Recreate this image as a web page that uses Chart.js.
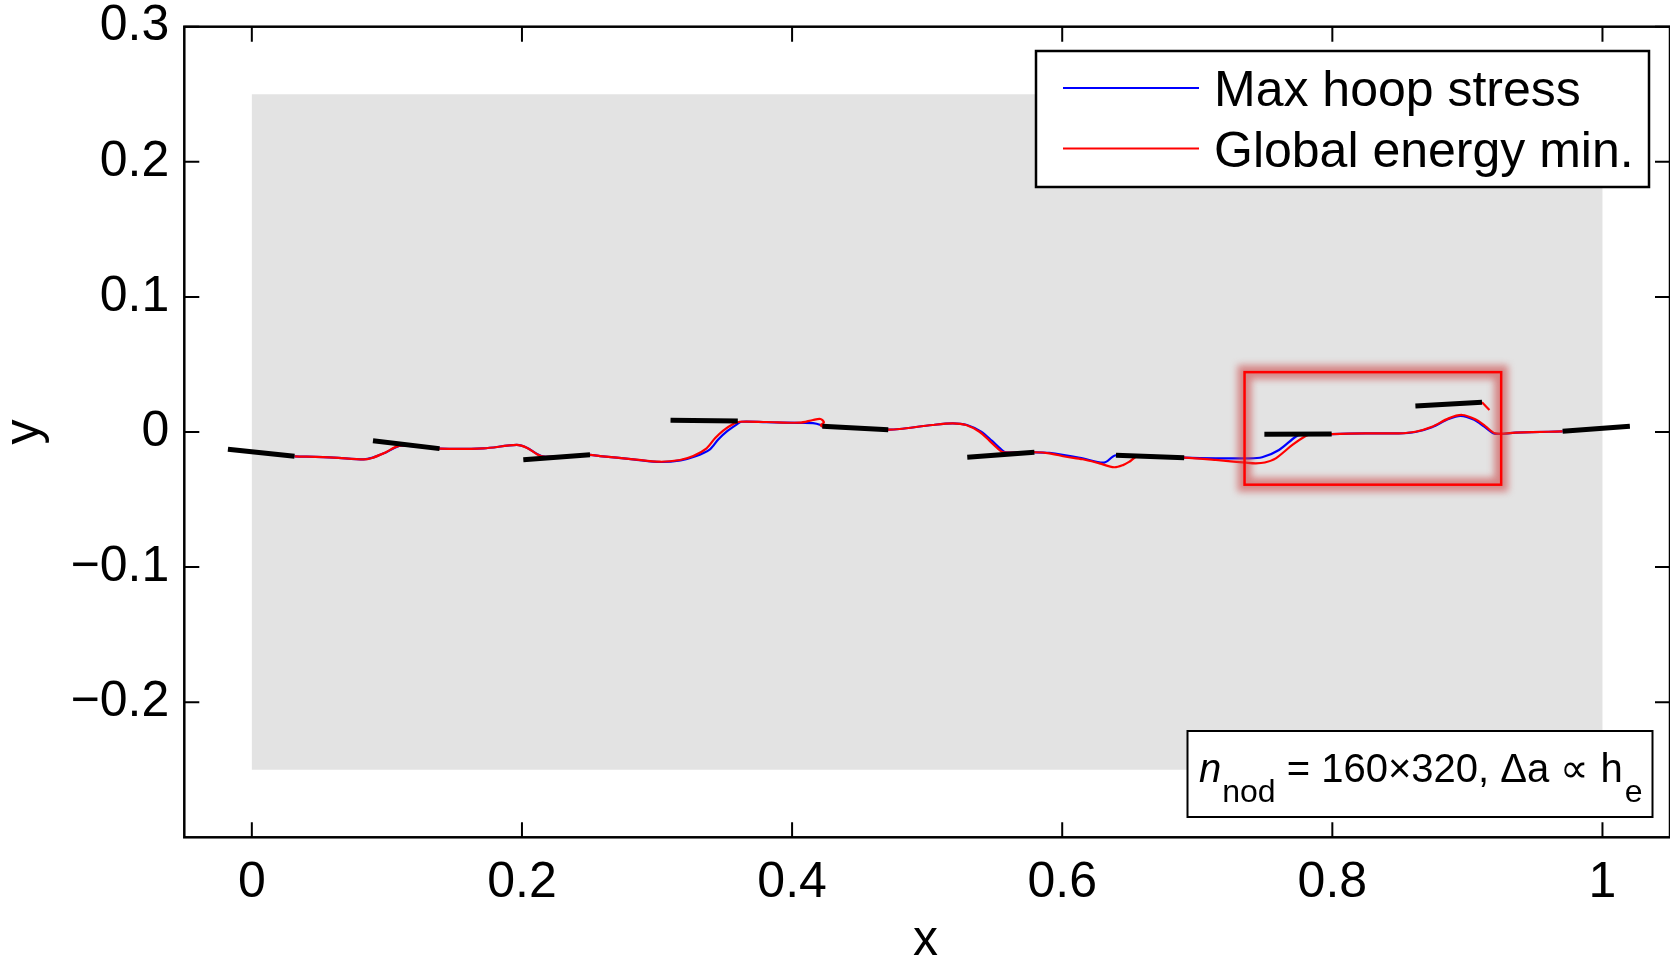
<!DOCTYPE html>
<html>
<head>
<meta charset="utf-8">
<script src="https://cdn.jsdelivr.net/npm/chart.js@4.4.1/dist/chart.umd.min.js"></script>
<style>
  html, body { margin: 0; background: #fff; }
  #wrap { width: 1670px; height: 958px; }
</style>
</head>
<body>
<div id="wrap"><canvas id="myChart"></canvas></div>
<script>
/* globals Chart:false */
(() => {
  'use strict'

  // tick labels
  const xTicks = [0, 0.2, 0.4, 0.6, 0.8, 1]
  const yTicks = [-0.2, -0.1, 0, 0.1, 0.2, 0.3]

  // specimen (grey) and zoom window (red box)
  const domainX = [0, 1]
  const domainY = [-0.25, 0.25]
  const zoomX = [0.735, 0.925]
  const zoomY = [-0.039, 0.0443]

  // Max hoop stress crack path
  const hoopX = [0.0316, 0.0607, 0.0828, 0.0895, 0.0985, 0.1105, 0.1390, 0.1715, 0.1961, 0.2040, 0.2115, 0.2165,
    0.2504, 0.2578, 0.2824, 0.3022, 0.3175, 0.3280, 0.3392, 0.3453, 0.3515, 0.3589, 0.3625, 0.3810, 0.4056,
    0.4155, 0.4212, 0.4224, 0.4712, 0.4796, 0.5040, 0.5190, 0.5295, 0.5400, 0.5478, 0.5540, 0.5580, 0.5794,
    0.5904, 0.6151, 0.6310, 0.6398, 0.6903, 0.7137, 0.7359, 0.7480, 0.7605, 0.7728, 0.7765, 0.7995, 0.8245,
    0.8492, 0.8615, 0.8738, 0.8861, 0.8950, 0.9050, 0.9125, 0.9200, 0.9355, 0.9601, 0.9705]
  const hoopY = [-0.0180, -0.0190, -0.0203, -0.0190, -0.0155, -0.0101, -0.0123, -0.0121, -0.0096, -0.0118, -0.0165, -0.0183,
    -0.0170, -0.0178, -0.0202, -0.0222, -0.0210, -0.0182, -0.0128, -0.0055, 0.0003, 0.0055, 0.0076, 0.0072, 0.0068,
    0.0066, 0.0052, 0.0042, 0.0017, 0.0022, 0.0052, 0.0064, 0.0052, 0.0002, -0.0064, -0.0121, -0.0150, -0.0150,
    -0.0155, -0.0195, -0.0227, -0.0172, -0.0190, -0.0195, -0.0195, -0.0187, -0.0133, -0.0035, -0.0022, -0.0015, -0.0010,
    -0.0010, 0.0000, 0.0035, 0.0096, 0.0120, 0.0090, 0.0040, -0.0012, -0.0005, 0.0002, 0.0005]

  // Global energy min. crack path
  const energyX = [0.0316, 0.0607, 0.0828, 0.0890, 0.0976, 0.1099, 0.1390, 0.1715, 0.1961, 0.2035, 0.2109, 0.2158,
    0.2504, 0.2578, 0.2824, 0.3022, 0.3170, 0.3268, 0.3367, 0.3429, 0.3490, 0.3564, 0.3613, 0.3810, 0.4056,
    0.4155, 0.4210, 0.4236, 0.4212, 0.4224, 0.4712, 0.4796, 0.5040, 0.5190, 0.5288, 0.5387, 0.5461, 0.5522,
    0.5564, 0.5794, 0.5904, 0.6028, 0.6151, 0.6275, 0.6385, 0.6450, 0.6497, 0.6558, 0.6903, 0.7137, 0.7359,
    0.7433, 0.7500, 0.7581, 0.7704, 0.7802, 0.7839, 0.7995, 0.8245, 0.8492, 0.8615, 0.8738, 0.8861, 0.8960,
    0.9058, 0.9132, 0.9206, 0.9355, 0.9601, 0.9705]
  const energyY = [-0.0180, -0.0190, -0.0203, -0.0192, -0.0158, -0.0101, -0.0123, -0.0121, -0.0096, -0.0116, -0.0163, -0.0183,
    -0.0170, -0.0178, -0.0202, -0.0220, -0.0207, -0.0178, -0.0121, -0.0047, 0.0010, 0.0059, 0.0076, 0.0074, 0.0069,
    0.0089, 0.0096, 0.0072, 0.0050, 0.0042, 0.0017, 0.0022, 0.0052, 0.0064, 0.0052, 0.0002, -0.0064, -0.0121,
    -0.0150, -0.0150, -0.0158, -0.0183, -0.0202, -0.0232, -0.0261, -0.0245, -0.0220, -0.0180, -0.0190, -0.0207, -0.0227,
    -0.0232, -0.0226, -0.0195, -0.0096, -0.0030, -0.0017, -0.0015, -0.0010, -0.0010, 0.0002, 0.0039, 0.0101, 0.0126,
    0.0094, 0.0044, -0.0010, -0.0005, 0.0002, 0.0005]
  const energyTailX = [0.9108, 0.9163]
  const energyTailY = [0.0220, 0.0163]

  // initial cracks (black)
  const crackX1 = [-0.0177, 0.0897, 0.2010, 0.3100, 0.4224, 0.5297, 0.6398, 0.7497, 0.8615, 0.9705]
  const crackY1 = [-0.0128, -0.0064, -0.0205, 0.0087, 0.0042, -0.0187, -0.0172, -0.0017, 0.0192, 0.0005]
  const crackX2 = [0.0316, 0.1390, 0.2504, 0.3598, 0.4712, 0.5794, 0.6903, 0.7995, 0.9108, 1.0203]
  const crackY2 = [-0.0180, -0.0123, -0.0168, 0.0082, 0.0017, -0.0150, -0.0190, -0.0015, 0.0220, 0.0042]

  const FONT = '"Liberation Sans", Arial, Helvetica, sans-serif'
  const pts = (xs, ys) => xs.map((v, i) => ({ x: v, y: ys[i] }))
  const fmt = v => {
    if (Math.abs(v) < 1e-9) return '0'
    return String(Math.round(v * 10) / 10).replace('-', '\u2212')
  }

  const datasets = []
  crackX1.forEach((x1, i) => {
    datasets.push({
      data: [{ x: x1, y: crackY1[i] }, { x: crackX2[i], y: crackY2[i] }],
      borderColor: '#000', borderWidth: 5, pointRadius: 0, showLine: true, order: 0
    })
  })
  datasets.push({ label: 'Global energy min.', data: pts(energyX, energyY), borderColor: '#ff0000',
    borderWidth: 2.2, pointRadius: 0, showLine: true, tension: 0.3, order: 1 })
  datasets.push({ data: pts(energyTailX, energyTailY), borderColor: '#ff0000',
    borderWidth: 2.2, pointRadius: 0, showLine: true, order: 1 })
  datasets.push({ label: 'Max hoop stress', data: pts(hoopX, hoopY), borderColor: '#0000ff',
    borderWidth: 2.2, pointRadius: 0, showLine: true, tension: 0.3, order: 2 })

  const background = {
    id: 'background',
    beforeDatasetsDraw(chart) {
      const { ctx, scales: { x, y } } = chart
      const l = x.getPixelForValue(domainX[0]), r = x.getPixelForValue(domainX[1])
      const t = y.getPixelForValue(domainY[1]), b = y.getPixelForValue(domainY[0])
      ctx.save()
      ctx.fillStyle = '#e3e3e3'
      ctx.fillRect(l, t, r - l, b - t)
      ctx.restore()
    }
  }

  const frame = {
    id: 'frame',
    afterDatasetsDraw(chart) {
      const { ctx, chartArea: a, scales: { x, y } } = chart
      ctx.save()
      // zoom window with glow
      const l = x.getPixelForValue(zoomX[0]), r = x.getPixelForValue(zoomX[1])
      const t = y.getPixelForValue(zoomY[1]), b = y.getPixelForValue(zoomY[0])
      ctx.filter = 'blur(3.5px)'
      ctx.strokeStyle = 'rgba(205,70,70,0.6)'
      ctx.lineWidth = 14
      ctx.strokeRect(l, t, r - l, b - t)
      ctx.filter = 'none'
      ctx.strokeStyle = '#ff0000'
      ctx.lineWidth = 2.5
      ctx.strokeRect(l, t, r - l, b - t)

      // axes box with inward ticks
      ctx.strokeStyle = '#000'
      ctx.lineWidth = 2.5
      ctx.strokeRect(a.left, a.top, a.right - a.left, a.bottom - a.top)
      ctx.lineWidth = 2
      ctx.beginPath()
      xTicks.forEach(v => {
        const px = x.getPixelForValue(v)
        ctx.moveTo(px, a.bottom); ctx.lineTo(px, a.bottom - 15)
        ctx.moveTo(px, a.top); ctx.lineTo(px, a.top + 15)
      })
      yTicks.forEach(v => {
        const py = y.getPixelForValue(v)
        ctx.moveTo(a.left, py); ctx.lineTo(a.left + 15, py)
        ctx.moveTo(a.right, py); ctx.lineTo(a.right - 15, py)
      })
      ctx.stroke()
      ctx.restore()
    },
    afterDraw(chart) {
      const { ctx } = chart
      ctx.save()
      ctx.fillStyle = '#000'
      // axis titles
      ctx.font = '50px ' + FONT
      ctx.textAlign = 'center'
      ctx.textBaseline = 'alphabetic'
      ctx.fillText('x', 925.5, 955)
      ctx.translate(39, 432)
      ctx.rotate(-Math.PI / 2)
      ctx.fillText('y', 0, 0)
      ctx.restore()

      // legend
      ctx.save()
      ctx.fillStyle = '#fff'
      ctx.fillRect(1036, 51, 613, 136)
      ctx.strokeStyle = '#000'
      ctx.lineWidth = 2.5
      ctx.strokeRect(1036, 51, 613, 136)
      const items = [['Max hoop stress', '#0000ff', 88], ['Global energy min.', '#ff0000', 148.5]]
      ctx.font = '50px ' + FONT
      ctx.textAlign = 'left'
      ctx.textBaseline = 'alphabetic'
      items.forEach(([label, col, ly]) => {
        ctx.strokeStyle = col
        ctx.lineWidth = 2.2
        ctx.beginPath()
        ctx.moveTo(1063, ly); ctx.lineTo(1199, ly)
        ctx.stroke()
        ctx.fillStyle = '#000'
        ctx.fillText(label, 1214, ly + 18)
      })

      // annotation box
      ctx.fillStyle = '#fff'
      ctx.fillRect(1187.5, 731, 465, 86)
      ctx.strokeStyle = '#000'
      ctx.lineWidth = 2
      ctx.strokeRect(1187.5, 731, 465, 86)
      ctx.fillStyle = '#000'
      let cx = 1199
      const base = 782, sub = 801.5
      ctx.font = 'italic 40px ' + FONT
      ctx.fillText('n', cx, base); cx += ctx.measureText('n').width + 1
      ctx.font = '32px ' + FONT
      ctx.fillText('nod', cx, sub); cx += ctx.measureText('nod').width
      ctx.font = '40px ' + FONT
      const mid = ' = 160\u00d7320, \u0394a \u221d h'
      ctx.fillText(mid, cx, base); cx += ctx.measureText(mid).width + 2
      ctx.font = '32px ' + FONT
      ctx.fillText('e', cx, sub)
      ctx.restore()
    }
  }

  const ctx = document.getElementById('myChart')
  // eslint-disable-next-line no-unused-vars
  const myChart = new Chart(ctx, {
    type: 'scatter',
    data: { datasets },
    options: {
      responsive: true,
      maintainAspectRatio: false,
      animation: false,
      layout: { padding: { top: 26.7, right: -1.5, left: 0, bottom: 0 } },
      plugins: { legend: { display: false }, tooltip: { enabled: false } },
      scales: {
        x: {
          type: 'linear', min: -0.05, max: 1.05,
          afterBuildTicks: s => { s.ticks = xTicks.map(v => ({ value: v })) },
          afterFit: s => { s.height = 958 - 837.3; s.paddingLeft = 0; s.paddingRight = 0 },
          grid: { display: false, drawTicks: false },
          border: { display: false },
          ticks: { font: { family: FONT, size: 50 }, color: '#000', padding: 16,
            maxRotation: 0, autoSkip: false, callback: v => fmt(v) }
        },
        y: {
          type: 'linear', min: -0.3, max: 0.3,
          afterBuildTicks: s => { s.ticks = yTicks.map(v => ({ value: v })) },
          afterFit: s => { s.width = 184.3; s.paddingTop = 0; s.paddingBottom = 0 },
          grid: { display: false, drawTicks: false },
          border: { display: false },
          ticks: { font: { family: FONT, size: 50 }, color: '#000', padding: 15,
            autoSkip: false, callback: v => fmt(v) }
        }
      }
    },
    plugins: [background, frame]
  })
})()
</script>
</body>
</html>
